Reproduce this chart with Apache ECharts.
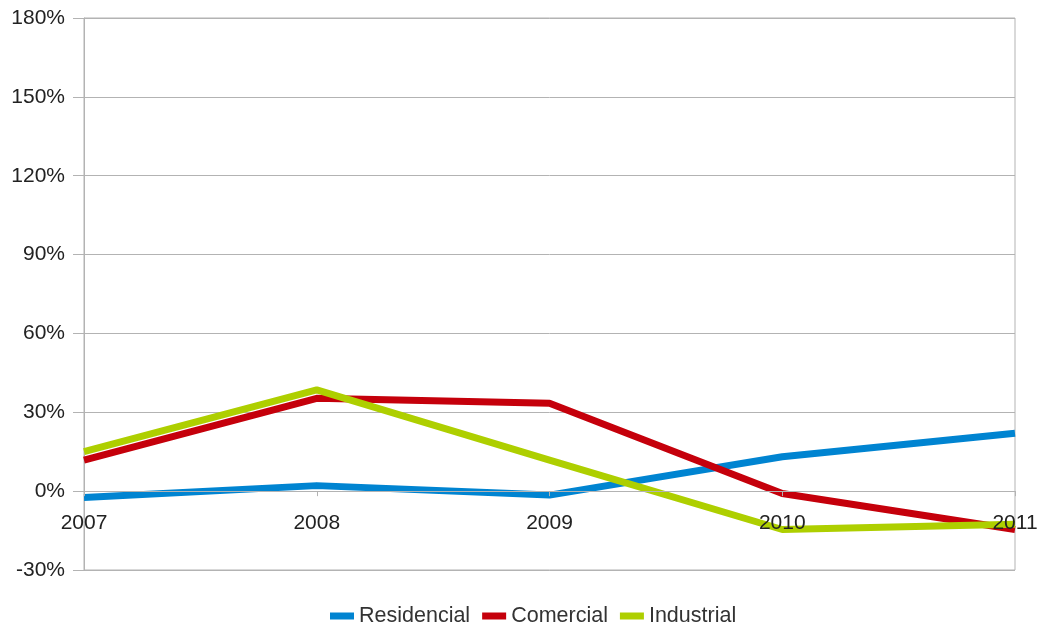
<!DOCTYPE html>
<html><head><meta charset="utf-8">
<script src="https://cdn.jsdelivr.net/npm/echarts@6/dist/echarts.min.js"></script>
<style>html,body{margin:0;padding:0;background:#fff}#c{width:1041px;height:628px}</style>
</head><body><div id="c"></div>
<script>
const categories = ['2007','2008','2009','2010','2011'];
const residencial = [-2.4, 2.1, -1.5, 13.1, 22.0];
const comercial = [11.8, 35.3, 33.4, -0.9, -14.6];
const industrial = [15.0, 38.5, 11.8, -14.6, -12.6];
const seriesNames = ['Residencial','Comercial','Industrial'];
const colors = ['#0084d1','#c5000b','#aecf00'];
const font = 'Liberation Sans, Arial, sans-serif';
const chart = echarts.init(document.getElementById('c'));
const mk = (name, data, color) => ({
  name, type:'line', data, symbol:'none', color,
  lineStyle:{width:7, color, join:'round'}, animation:false
});
chart.setOption({
  animation:false,
  grid:{left:84,right:26,top:18,bottom:58,show:true,borderColor:'#b3b3b3',borderWidth:1},
  legend:{top:605,left:330,padding:0,itemWidth:24,itemHeight:7,itemGap:12,icon:'rect',
    textStyle:{fontFamily:font,fontSize:21.5,color:'#333'},data:seriesNames},
  xAxis:{type:'category',data:categories,boundaryGap:false,z:10,
    axisLine:{onZero:true,lineStyle:{color:'#b3b3b3',width:1}},
    axisTick:{show:true,length:5,alignWithLabel:true,lineStyle:{color:'#b3b3b3'}},
    axisLabel:{margin:-57,fontFamily:font,fontSize:21,color:'#222'},
    splitLine:{show:false}},
  yAxis:{type:'value',min:-30,max:180,interval:30,
    axisLine:{show:true,lineStyle:{color:'#b3b3b3'}},
    axisTick:{show:true,length:11,lineStyle:{color:'#b3b3b3'}},
    axisLabel:{formatter:'{value}%',margin:19,fontFamily:font,fontSize:21,color:'#222'},
    splitLine:{show:true,lineStyle:{color:'#b3b3b3',width:1}}},
  series:[mk(seriesNames[0],residencial,colors[0]),mk(seriesNames[1],comercial,colors[1]),mk(seriesNames[2],industrial,colors[2])]
});
</script></body></html>
